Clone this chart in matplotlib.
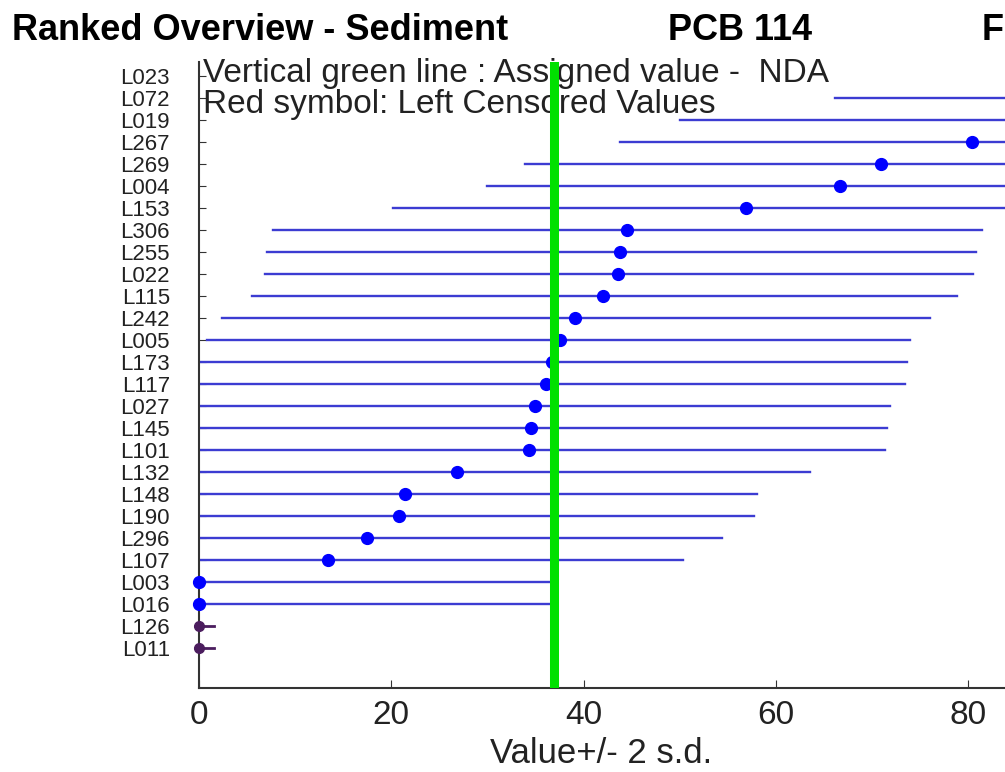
import numpy as np
import matplotlib
matplotlib.use('Agg')
import matplotlib.pyplot as plt

plt.rcParams['font.family'] = ['Liberation Sans', 'DejaVu Sans']

# labs from top to bottom
labs = ['L023', 'L072', 'L019', 'L267', 'L269', 'L004', 'L153', 'L306', 'L255',
        'L022', 'L115', 'L242', 'L005', 'L173', 'L117', 'L027', 'L145', 'L101',
        'L132', 'L148', 'L190', 'L296', 'L107', 'L003', 'L016', 'L126', 'L011']
vals = [125.0, 102.8, 86.7, 80.4, 70.9, 66.6, 56.9, 44.5, 43.8,
        43.6, 42.0, 39.1, 37.5, 36.7, 36.1, 34.9, 34.5, 34.3,
        26.8, 21.4, 20.8, 17.5, 13.4, 0.0, 0.0, 0.0, 0.0]
lows = [88.3, 66.1, 50.0, 43.8, 33.9, 29.9, 20.2, 7.7, 7.1,
        6.9, 5.5, 2.4, 0.8, 0.0, -0.6, -1.8, -2.2, -2.4,
        -9.9, -15.3, -15.9, -19.2, -23.3, -36.7, -36.7, 0.0, 0.0]
highs = [161.7, 139.5, 123.4, 117.0, 107.8, 103.3, 93.6, 81.4, 80.8,
         80.5, 78.8, 76.0, 73.9, 73.6, 73.4, 71.8, 71.5, 71.3,
         63.5, 58.0, 57.7, 54.4, 50.3, 36.7, 36.7, 1.6, 1.6]
censored = [False] * 25 + [True, True]
assigned = 36.9

fig = plt.figure(figsize=(10.05, 7.72), dpi=100)
ax = fig.add_axes([0.198, 0.109, 1.002, 0.811])

n = len(labs)
ypos = np.arange(n, 0, -1)

# green line sits over dots and text like in the original
ax.axvline(assigned, color='#00e000', lw=6.5, zorder=6)

for y, v, lo, hi, c in zip(ypos, vals, lows, highs, censored):
    if c:
        ax.plot([lo, hi], [y, y], color='#4b1d5e', lw=2, zorder=3, clip_on=False)
        ax.plot(v, y, 'o', color='#4b1d5e', ms=7, zorder=4, clip_on=False)
    else:
        ax.plot([lo, hi], [y, y], color='#3c3cd2', lw=1.7, zorder=2)
        ax.plot(v, y, 'o', color='#0000ff', ms=8.5, zorder=4, clip_on=False)

ax.set_xlim(0, 104.7)
ax.set_ylim(-0.82, 27.64)
ax.set_yticks(ypos)
ax.set_yticklabels(labs, fontsize=16)
ax.set_xticks([0, 20, 40, 60, 80])
ax.tick_params(axis='x', direction='in', length=6, labelsize=24, pad=9, colors='#333333')
ax.tick_params(axis='y', direction='in', length=5, pad=21, colors='#333333')
for lab in ax.get_xticklabels() + ax.get_yticklabels():
    lab.set_color('#222222')
ax.spines['top'].set_visible(False)
ax.spines['right'].set_visible(False)
for s in ['left', 'bottom']:
    ax.spines[s].set_color('#333333')
    ax.spines[s].set_linewidth(1.5)

ax.set_xlabel('Value+/- 2 s.d.', fontsize=25, color='#222222')
ax.xaxis.set_label_coords((601 - 199) / (1.002 * 1005), -0.079)
ax.xaxis.label.set_va('top')

ax.text(0.004, 1.006, 'Vertical green line : Assigned value -  NDA', transform=ax.transAxes,
        fontsize=24, va='top', ha='left', color='#222222', zorder=5)
ax.text(0.004, 0.957, 'Red symbol: Left Censored Values', transform=ax.transAxes,
        fontsize=24, va='top', ha='left', color='#222222', zorder=5)

fig.text(12 / 1005, 1 - 31 / 772, 'Ranked Overview - Sediment', fontsize=26,
         fontweight='bold', va='center', ha='left')
fig.text(740 / 1005, 1 - 31 / 772, 'PCB 114', fontsize=26,
         fontweight='bold', va='center', ha='center')
fig.text(1004 / 1005, 1 - 31 / 772, 'F', fontsize=26,
         fontweight='bold', va='center', ha='right')

fig.savefig('out.png', dpi=100)
